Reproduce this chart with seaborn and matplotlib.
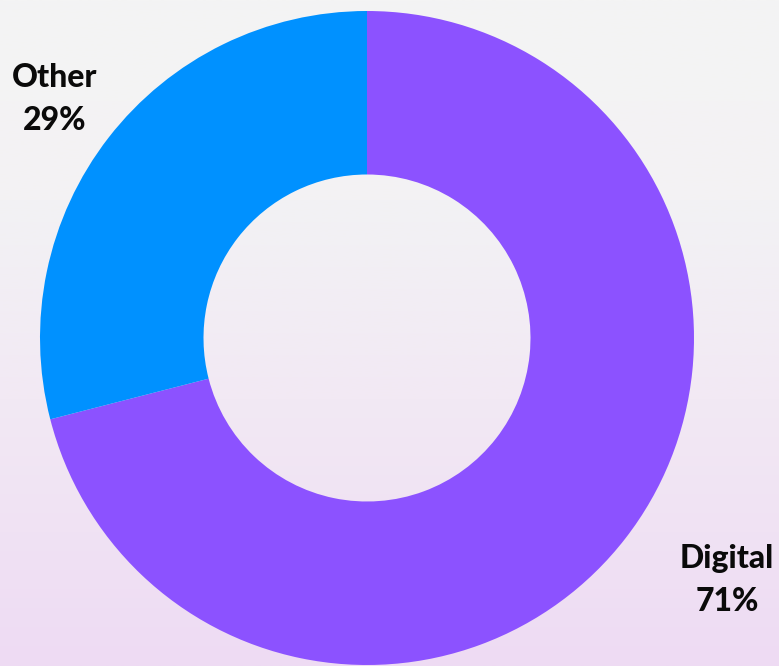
import numpy as np
import matplotlib
matplotlib.use("Agg")
import matplotlib.pyplot as plt
import seaborn as sns
from matplotlib.colors import LinearSegmentedColormap

categories = ["Digital", "Other"]
values = [71, 29]
pct_labels = ["71%", "29%"]
colors = ["#8C52FF", "#0091FF"]

sns.set_theme(style="white")
plt.rcParams['font.family'] = ['Lato', 'DejaVu Sans']

W, H, DPI = 779, 666, 100
fig = plt.figure(figsize=(W / DPI, H / DPI), dpi=DPI)

# background gradient
bg = fig.add_axes([0, 0, 1, 1], zorder=0)
cmap = LinearSegmentedColormap.from_list(
    "bg", [(0.0, "#F4F4F4"), (0.3, "#F3F2F4"), (0.6, "#F2E9F4"), (1.0, "#EEDBF3")])
grad = np.linspace(0, 1, 256).reshape(-1, 1)
bg.imshow(grad, aspect="auto", cmap=cmap, extent=[0, 1, 1, 0])
bg.set_axis_off()

ax = fig.add_axes([0, 0, 1, 1], zorder=1)
ax.patch.set_alpha(0)
R = 327.0
cx, cy = 367.0, H - 338.0
ax.pie(values, colors=colors, startangle=90, counterclock=False,
       radius=1.0, wedgeprops=dict(width=0.5, linewidth=0, antialiased=True))
ax.set_xlim(-cx / R, (W - cx) / R)
ax.set_ylim(-cy / R, (H - cy) / R)
ax.set_aspect("equal")
ax.set_axis_off()

label_pos = {"Digital": (727 / W, 1 - 580 / H), "Other": (55 / W, 1 - 99 / H)}
for cat, pl in zip(categories, pct_labels):
    x, y = label_pos[cat]
    fig.text(x, y, f"{cat}\n{pl}", ha="center", va="center", fontsize=23,
             fontweight=900, color="#0A0A0A", linespacing=1.55, zorder=3)

fig.savefig("out.png", dpi=DPI)
